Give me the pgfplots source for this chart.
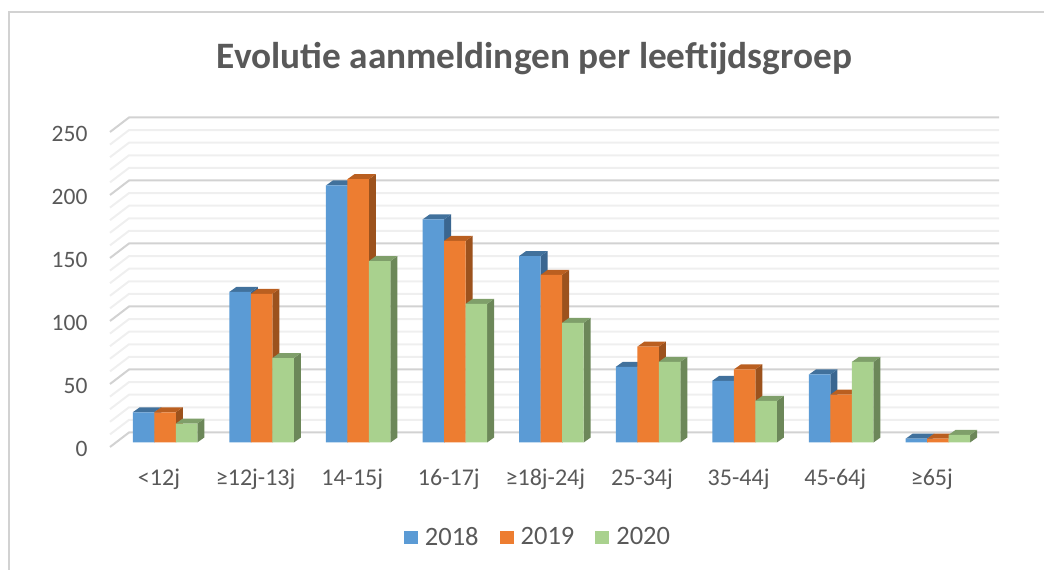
\documentclass[border=0pt]{standalone}
\usepackage{fontspec}
\setmainfont{Carlito}
\usepackage{pgfplots}
\pgfplotsset{compat=1.18}
\usetikzlibrary{plotmarks}
\definecolor{txt}{HTML}{595959}
\definecolor{gmaj}{HTML}{D2D2D2}
\definecolor{gmin}{HTML}{EFEFEF}
\definecolor{c18}{HTML}{5B9BD5}
\definecolor{c19}{HTML}{ED7D31}
\definecolor{c20}{HTML}{A9D18E}
\definecolor{c18top}{HTML}{41719C}
\definecolor{c19top}{HTML}{BA5F20}
\definecolor{c20top}{HTML}{7F9F6A}
\definecolor{c18side}{HTML}{3A6690}
\definecolor{c19side}{HTML}{9C521D}
\definecolor{c20side}{HTML}{6C8759}

% side and top faces of a bar: name, x offset, top colour, side colour
\newcommand{\declarebox}[4]{%
  \pgfdeclareplotmark{#1}{%
    \pgfmathsetlengthmacro\barh{1.26pt*\barval}%
    \pgfmathsetlengthmacro\xl{#2-10.75pt}%
    \pgfmathsetlengthmacro\xr{#2+10.75pt}%
    \pgfmathsetlengthmacro\xlb{\xl+7pt}%
    \pgfmathsetlengthmacro\xrb{\xr+7pt}%
    \pgfmathsetlengthmacro\yb{5pt-\barh}%
    \pgfsetfillcolor{#4}%
    \pgfpathmoveto{\pgfpoint{\xr}{0pt}}%
    \pgfpathlineto{\pgfpoint{\xrb}{5pt}}%
    \pgfpathlineto{\pgfpoint{\xrb}{\yb}}%
    \pgfpathlineto{\pgfpoint{\xr}{-\barh}}%
    \pgfpathclose\pgfusepathqfill
    \pgfsetfillcolor{#3}%
    \pgfpathmoveto{\pgfpoint{\xl}{0pt}}%
    \pgfpathlineto{\pgfpoint{\xr}{0pt}}%
    \pgfpathlineto{\pgfpoint{\xrb}{5pt}}%
    \pgfpathlineto{\pgfpoint{\xlb}{5pt}}%
    \pgfpathclose\pgfusepathqfill
  }}
\declarebox{box18}{-21.5pt}{c18top}{c18side}
\declarebox{box19}{0pt}{c19top}{c19side}
\declarebox{box20}{21.5pt}{c20top}{c20side}

\pgfplotstableread{
x v18 v19 v20
0 24 24 15
1 119.5 118 67
2 204 209 144
3 177 160 110
4 148 133 95
5 60 76 64
6 49 58 33
7 54 38 64
8 3 3 6
}\ages

\pgfplotsset{
  extr/.style={scatter, only marks, forget plot, scatter src=y,
    visualization depends on={rawy \as \barval}, mark=#1},
  front/.style={ybar, bar width=21.5pt, draw=none,
    legend image code/.code={\fill[##1] (0pt,-6.5pt) rectangle (14pt,6.5pt);}},
}

\begin{document}
\begin{tikzpicture}[x=1pt,y=1pt]
\useasboundingbox (0,0) rectangle (1044,570);
\draw[draw=gmaj, line width=1.5pt] (9,-2) -- (9,558) -- (1046,558);
\begin{axis}[
    at={(110pt,127.5pt)}, anchor=south west,
    x=96.6pt, y=1.26pt,
    xmin=-0.5694, xmax=8.634,
    ymin=0, ymax=250,
    clip=false,
    clip mode=individual,
    axis x line*=bottom, axis y line*=left,
    axis line style={draw=none, -},
    major tick length=0pt,
    xtick={0,...,8},
    xticklabels={<12j,≥12j-13j,14-15j,16-17j,≥18j-24j,25-34j,35-44j,45-64j,≥65j},
    ytick={0,50,...,250},
    /pgf/number format/assume math mode=true,
    yticklabel style={font=\fontsize{23.5}{24}\selectfont, text=txt, anchor=east, yshift=-6.5pt, xshift=-19pt},
    xticklabel style={font=\fontsize{24}{24}\selectfont, text=txt, anchor=base, xshift=-6pt, yshift=-43pt},
    title={\fontsize{37.3}{40}\selectfont\bfseries Evolutie aanmeldingen per leeftijdsgroep},
    title style={at={(0.4774,1.199)}, anchor=center, text=txt},
    legend columns=3,
    legend style={at={(0.4814,-0.30)}, anchor=center, draw=none, fill=none,
      font=\fontsize{26.5}{27}\selectfont, text=txt,
      /tikz/every odd column/.style={column sep=5pt},
      /tikz/every even column/.style={column sep=19pt}},
]
\pgfplotsinvokeforeach{10,20,30,40,60,70,80,90,110,120,130,140,160,170,180,190,210,220,230,240}{
  \draw[gmin, line width=2pt] (axis cs:-0.5694,#1) ++(0pt,-4.5pt) -- ++(19pt,14.5pt) -- ++(870pt,0pt);
}
\pgfplotsinvokeforeach{0,50,100,150,200,250}{
  \draw[gmaj, line width=2pt] (axis cs:-0.5694,#1) ++(0pt,-4.5pt) -- ++(19pt,14.5pt) -- ++(870pt,0pt);
}
\addplot[extr=box18] table[x=x,y=v18] {\ages};
\addplot[front, fill=c18, bar shift=-21.5pt] table[x=x,y=v18] {\ages};
\addlegendentry{2018}
\addplot[extr=box19] table[x=x,y=v19] {\ages};
\addplot[front, fill=c19, bar shift=0pt] table[x=x,y=v19] {\ages};
\addlegendentry{2019}
\addplot[extr=box20] table[x=x,y=v20] {\ages};
\addplot[front, fill=c20, bar shift=21.5pt] table[x=x,y=v20] {\ages};
\addlegendentry{2020}
\end{axis}
\end{tikzpicture}
\end{document}
